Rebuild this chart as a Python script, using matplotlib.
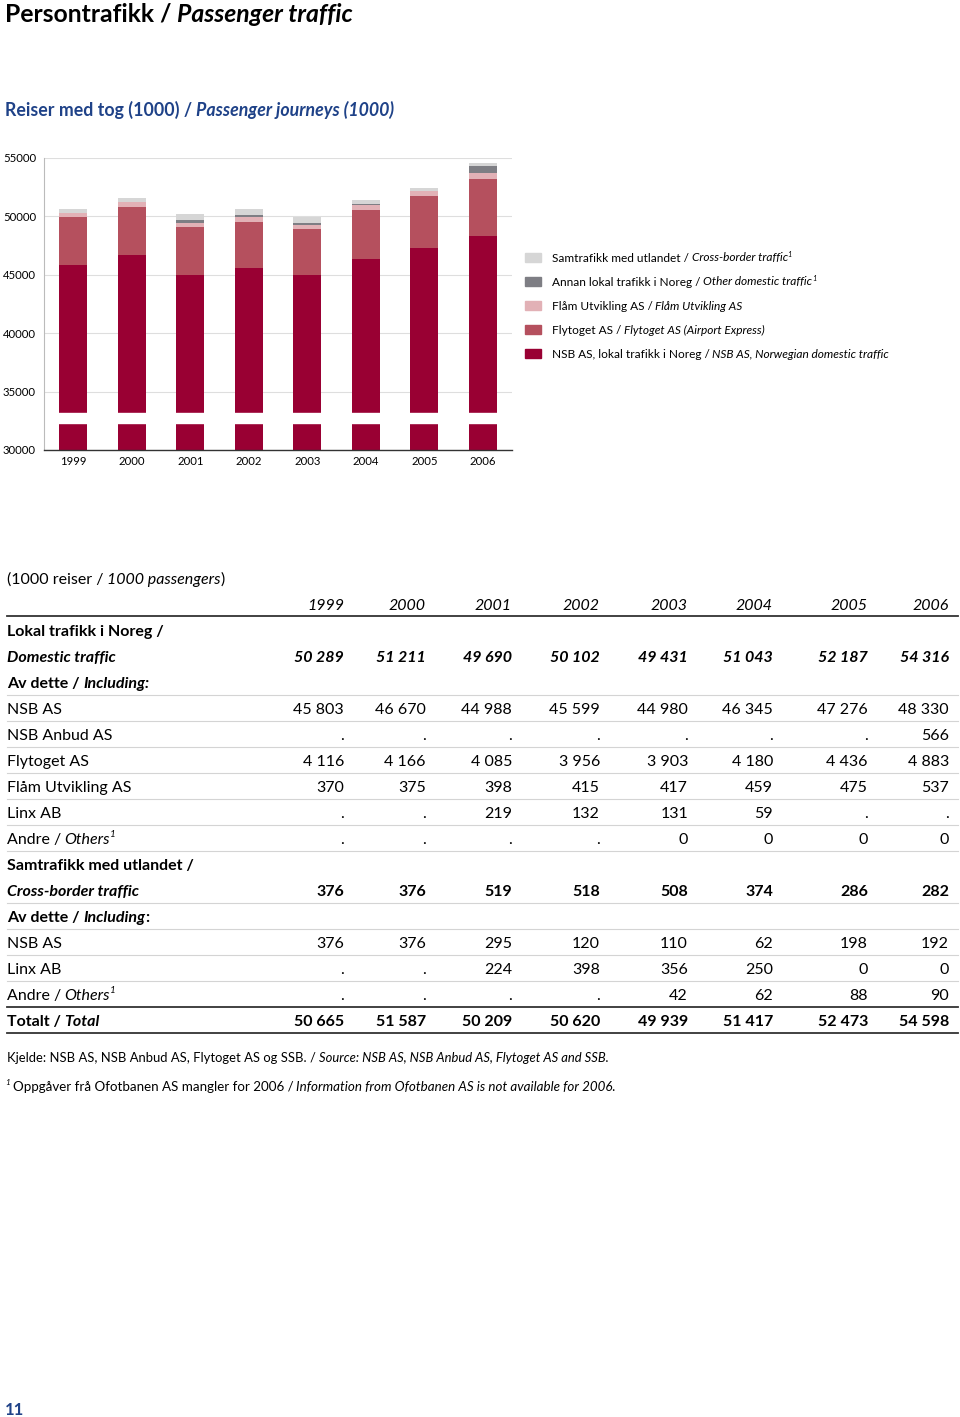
import matplotlib
matplotlib.use("Agg")
import matplotlib.pyplot as plt
from matplotlib.patches import Rectangle

plt.rcParams["font.family"] = ["Lato", "DejaVu Sans"]

years = ["1999", "2000", "2001", "2002", "2003", "2004", "2005", "2006"]

# bar series (1000 journeys), stacked bottom to top
nsb_domestic = [45803, 46670, 44988, 45599, 44980, 46345, 47276, 48330]
flytoget = [4116, 4166, 4085, 3956, 3903, 4180, 4436, 4883]
flam = [370, 375, 398, 415, 417, 459, 475, 537]
other_domestic = [0, 0, 219, 132, 131, 59, 0, 566]
cross_border = [376, 376, 519, 518, 508, 374, 286, 282]

# table rows (None = ".")
domestic_total = [50289, 51211, 49690, 50102, 49431, 51043, 52187, 54316]
nsb_anbud = [None, None, None, None, None, None, None, 566]
linx_domestic = [None, None, 219, 132, 131, 59, None, None]
others_domestic = [None, None, None, None, 0, 0, 0, 0]
cross_total = [376, 376, 519, 518, 508, 374, 286, 282]
nsb_cross = [376, 376, 295, 120, 110, 62, 198, 192]
linx_cross = [None, None, 224, 398, 356, 250, 0, 0]
others_cross = [None, None, None, None, 42, 62, 88, 90]
grand_total = [50665, 51587, 50209, 50620, 49939, 51417, 52473, 54598]

colors = ["#990033", "#b5505e", "#e2b1b6", "#7e7e84", "#d6d6d6"]
blue = "#1f4288"

fig = plt.figure(figsize=(9.6, 14.17), dpi=100)
page = fig.add_axes([0, 0, 1, 1])
page.set_xlim(0, 960)
page.set_ylim(1417, 0)
page.axis("off")
renderer = fig.canvas.get_renderer()


def rich(x, y, parts, size, color="black"):
    # draw text pieces one after another; parts = (text, weight, style)
    for text, weight, style in parts:
        if text == " ":
            x += size * 0.21 * 100 / 72
            continue
        fs, dy, st = size, 0, style
        if style == "sup":
            fs, dy, st = size * 0.62, -size * 0.45, "italic"
        t = page.text(x, y + dy, text, fontsize=fs, fontweight=weight,
                      fontstyle=st, color=color, va="center", ha="left")
        x += t.get_window_extent(renderer).width
    return x


# titles
rich(5, 14, [("Persontrafikk /", "bold", "normal"), (" ", 0, 0),
             ("Passenger traffic", "bold", "italic")], 17.8)
rich(5, 110, [("Reiser med tog (1000) /", "bold", "normal"), (" ", 0, 0),
              ("Passenger journeys (1000)", "bold", "italic")], 12.8, blue)

# chart
ax = fig.add_axes([44 / 960, (1417 - 450) / 1417, 468 / 960, 292 / 1417])
ax.set_facecolor("none")
x = range(len(years))
bottom = [0] * len(years)
for vals, c in zip([nsb_domestic, flytoget, flam, other_domestic, cross_border], colors):
    ax.bar(x, vals, bottom=bottom, width=0.48, color=c, zorder=2)
    bottom = [b + v for b, v in zip(bottom, vals)]
ax.axhspan(32300, 33150, xmin=0.004, xmax=1, color="white", zorder=3)
ax.set_xlim(-0.5, 7.5)
ax.set_ylim(30000, 55000)
ax.set_yticks(range(30000, 55001, 5000))
ax.set_xticks(list(x))
ax.set_xticklabels(years)
ax.yaxis.grid(True, color="#dedede", lw=0.8, zorder=0)
ax.set_axisbelow(True)
ax.tick_params(axis="y", length=0, pad=5.8, labelsize=8.2)
ax.tick_params(axis="x", length=0, pad=4, labelsize=8.2)
for s in ["top", "right"]:
    ax.spines[s].set_visible(False)
ax.spines["left"].set_color("#bbbbbb")
ax.spines["left"].set_linewidth(0.8)
ax.spines["bottom"].set_color("#333333")
ax.spines["bottom"].set_linewidth(1.0)

# legend (top to bottom)
legend_items = [
    (colors[4], [("Samtrafikk med utlandet /", "normal", "normal"), (" ", 0, 0),
                 ("Cross-border traffic", "normal", "italic"), ("1", "normal", "sup")]),
    (colors[3], [("Annan lokal trafikk i Noreg /", "normal", "normal"), (" ", 0, 0),
                 ("Other domestic traffic", "normal", "italic"), ("1", "normal", "sup")]),
    (colors[2], [("Flåm Utvikling AS /", "normal", "normal"), (" ", 0, 0),
                 ("Flåm Utvikling AS", "normal", "italic")]),
    (colors[1], [("Flytoget AS /", "normal", "normal"), (" ", 0, 0),
                 ("Flytoget AS (Airport Express)", "normal", "italic")]),
    (colors[0], [("NSB AS, lokal trafikk i Noreg /", "normal", "normal"), (" ", 0, 0),
                 ("NSB AS, Norwegian domestic traffic", "normal", "italic")]),
]
for i, (c, parts) in enumerate(legend_items):
    ly = 257 + i * 24
    page.add_patch(Rectangle((525, ly - 4.5), 16, 9, color=c))
    rich(552, ly + 1, parts, 8.6)

# table
col_x = [344, 426, 512, 600, 688, 773, 868, 949]
tsize = 11.5


def fmt(v):
    return "." if v is None else f"{v:,}".replace(",", " ")


rich(7, 580, [("(1000 reiser /", "normal", "normal"), (" ", 0, 0),
              ("1000 passengers", "normal", "italic"), (")", "normal", "normal")], tsize)
for cx, yr in zip(col_x, years):
    page.text(cx, 606, yr, fontsize=tsize, fontstyle="italic", ha="right", va="center")
page.plot([7, 958], [616, 616], color="#333333", lw=1.3)

B, N, I = "bold", "normal", "italic"
rows = [
    ([("Lokal trafikk i Noreg /", B, N)], None, (N, N), None),
    ([("Domestic traffic", B, I)], domestic_total, (B, I), None),
    ([("Av dette /", B, N), (" ", 0, 0), ("Including:", B, I)], None, (N, N), "light"),
    ([("NSB AS", N, N)], nsb_domestic, (N, N), "light"),
    ([("NSB Anbud AS", N, N)], nsb_anbud, (N, N), "light"),
    ([("Flytoget AS", N, N)], flytoget, (N, N), "light"),
    ([("Flåm Utvikling AS", N, N)], flam, (N, N), "light"),
    ([("Linx AB", N, N)], linx_domestic, (N, N), "light"),
    ([("Andre /", N, N), (" ", 0, 0), ("Others", N, I), ("1", N, "sup")], others_domestic, (N, N), "light"),
    ([("Samtrafikk med utlandet /", B, N)], None, (N, N), None),
    ([("Cross-border traffic", B, I)], cross_total, (B, N), "light"),
    ([("Av dette /", B, N), (" ", 0, 0), ("Including", B, I), (":", B, N)], None, (N, N), "light"),
    ([("NSB AS", N, N)], nsb_cross, (N, N), "light"),
    ([("Linx AB", N, N)], linx_cross, (N, N), "light"),
    ([("Andre /", N, N), (" ", 0, 0), ("Others", N, I), ("1", N, "sup")], others_cross, (N, N), "dark"),
    ([("Totalt /", B, N), (" ", 0, 0), ("Total", B, I)], grand_total, (B, N), "dark"),
]
for i, (label, vals, (vw, vs), line) in enumerate(rows):
    ry = 630 + i * 26
    rich(7, ry + 2, label, tsize)
    if vals is not None:
        for cx, v in zip(col_x, vals):
            page.text(cx, ry + 2, fmt(v), fontsize=tsize, fontweight=vw, fontstyle=vs,
                      ha="right", va="center")
    if line == "light":
        page.plot([7, 958], [ry + 13, ry + 13], color="#d4d4d4", lw=0.8)
    elif line == "dark":
        page.plot([7, 958], [ry + 13, ry + 13], color="#333333", lw=1.3)

# footnotes
rich(7, 1058, [("Kjelde: NSB AS, NSB Anbud AS, Flytoget AS og SSB. /", N, N), (" ", 0, 0),
               ("Source: NSB AS, NSB Anbud AS, Flytoget AS and SSB.", N, I)], 9.4)
rich(5, 1087, [("1", N, "sup"), (" ", 0, 0), ("Oppgåver frå Ofotbanen AS mangler for 2006 /", N, N),
               (" ", 0, 0), ("Information from Ofotbanen AS is not available for 2006.", N, I)], 9.6)

page.text(5, 1410, "11", fontsize=12, fontweight="bold", color=blue, va="center")

fig.savefig("out.png", dpi=100)
